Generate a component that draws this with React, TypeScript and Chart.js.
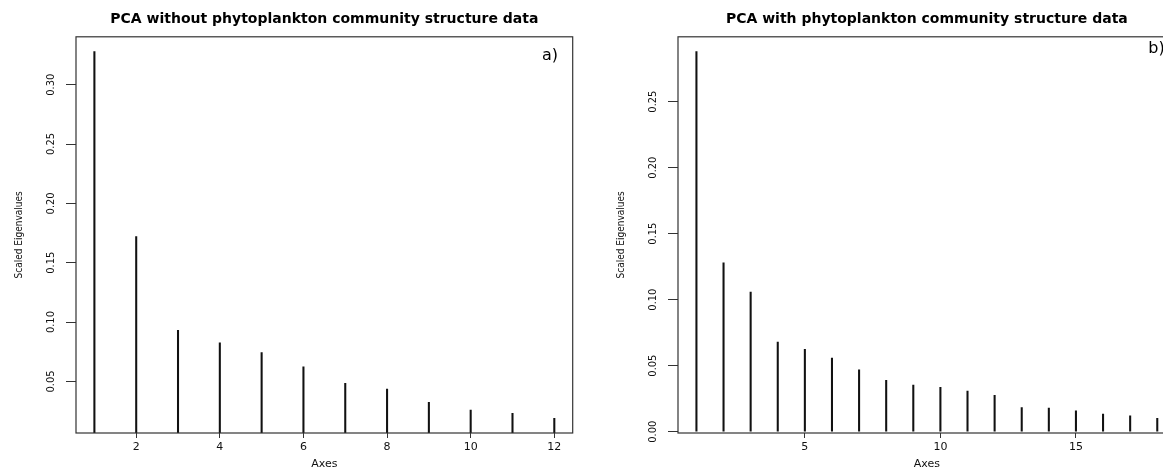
import React, { useEffect, useRef } from 'react';
import { Chart, registerables } from 'chart.js';

Chart.register(...registerables);

// ---- Panel a: PCA without phytoplankton community structure data ----
const axesA = [1, 2, 3, 4, 5, 6, 7, 8, 9, 10, 11, 12];
const eigenA = [0.328, 0.172, 0.093, 0.0825, 0.0744, 0.0623, 0.0483, 0.0435, 0.0323, 0.0259, 0.0231, 0.0189];
const xTicksA = [2, 4, 6, 8, 10, 12];
const yTicksA = [0.05, 0.10, 0.15, 0.20, 0.25, 0.30];
const titleA = 'PCA without phytoplankton community structure data';
const tagA = 'a)';

// ---- Panel b: PCA with phytoplankton community structure data ----
const axesB = [1, 2, 3, 4, 5, 6, 7, 8, 9, 10, 11, 12, 13, 14, 15, 16, 17, 18];
const eigenB = [0.288, 0.1278, 0.1057, 0.0679, 0.0623, 0.0557, 0.0469, 0.0389, 0.0353, 0.0336, 0.0308, 0.0275, 0.0182, 0.0179, 0.0157, 0.0134, 0.0119, 0.0101];
const xTicksB = [5, 10, 15];
const yTicksB = [0.0, 0.05, 0.10, 0.15, 0.20, 0.25];
const titleB = 'PCA with phytoplankton community structure data';
const tagB = 'b)';

const yLabel = 'Scaled Eigenvalues';
const xLabel = 'Axes';

const H = 470;
const NARROW = "'Liberation Sans Narrow', 'Arial Narrow', 'DejaVu Sans Condensed', sans-serif";

type PanelProps = {
  left: number;
  width: number;
  padRight: number;
  xs: number[];
  ys: number[];
  xTicks: number[];
  yTicks: number[];
  title: string;
  tag: string;
  tagDx: number;
  tagDy: number;
};

function expand(values: number[]) {
  const lo = Math.min(...values);
  const hi = Math.max(...values);
  const p = (hi - lo) * 0.04;
  return { min: lo - p, max: hi + p };
}

function Panel(props: PanelProps) {
  const ref = useRef<HTMLCanvasElement | null>(null);
  useEffect(() => {
    if (!ref.current) return;
    const xr = expand(props.xs);
    const yr = expand(props.ys);
    const frame = {
      id: 'frame',
      afterDraw(chart: any) {
        const { ctx, chartArea: a } = chart;
        ctx.save();
        ctx.strokeStyle = '#333';
        ctx.lineWidth = 1.2;
        ctx.strokeRect(a.left, a.top, a.right - a.left, a.bottom - a.top);
        ctx.font = "16px 'DejaVu Sans', sans-serif";
        ctx.fillStyle = '#000';
        ctx.textAlign = 'right';
        ctx.textBaseline = 'middle';
        ctx.fillText(props.tag, a.right - props.tagDx, a.top + props.tagDy);
        ctx.restore();
      },
    };
    const chart = new Chart(ref.current, {
      type: 'bar',
      data: {
        datasets: [
          {
            data: props.xs.map((x, i) => ({ x, y: props.ys[i] })),
            backgroundColor: '#111',
            borderWidth: 0,
            barThickness: 1.4,
            clip: 0,
          } as any,
        ],
      },
      options: {
        animation: false,
        responsive: false,
        maintainAspectRatio: false,
        layout: { padding: { left: 0, right: props.padRight, top: 0, bottom: 0 } },
        plugins: {
          legend: { display: false },
          tooltip: { enabled: false },
          title: {
            display: true,
            text: props.title,
            fullSize: false,
            color: '#000',
            font: { family: "'DejaVu Sans', sans-serif", size: 14, weight: 'bold' },
            padding: { top: 11, bottom: 9 },
          },
        },
        scales: {
          x: {
            type: 'linear',
            min: xr.min,
            max: xr.max,
            offset: false,
            afterBuildTicks: (s: any) => {
              s.ticks = props.xTicks.map((v) => ({ value: v }));
            },
            afterFit: (s: any) => {
              s.height = H - 433;
            },
            ticks: {
              autoSkip: false,
              maxRotation: 0,
              minRotation: 0,
              padding: 3,
              color: '#111',
              font: { family: "'DejaVu Sans', sans-serif", size: 11 },
              callback: (v: any) => String(v),
            },
            grid: {
              offset: false,
              drawOnChartArea: false,
              drawTicks: true,
              tickLength: 5,
              color: '#333',
              lineWidth: 1,
            },
            border: { display: false },
            title: {
              display: true,
              text: xLabel,
              color: '#111',
              font: { family: "'DejaVu Sans', sans-serif", size: 11, lineHeight: 1 },
              padding: { top: 0, bottom: 0 },
            },
          },
          y: {
            type: 'linear',
            min: yr.min,
            max: yr.max,
            afterBuildTicks: (s: any) => {
              s.ticks = props.yTicks.map((v) => ({ value: v }));
            },
            afterFit: (s: any) => {
              s.width = 76;
            },
            ticks: {
              autoSkip: false,
              minRotation: 90,
              maxRotation: 90,
              crossAlign: 'center',
              padding: 4,
              color: '#111',
              font: { family: NARROW, size: 11 },
              callback: (v: any) => Number(v).toFixed(2),
            },
            grid: {
              drawOnChartArea: false,
              drawTicks: true,
              tickLength: 10,
              color: '#333',
              lineWidth: 1,
            },
            border: { display: false },
            title: {
              display: true,
              text: yLabel,
              color: '#111',
              font: { family: NARROW, size: 10, lineHeight: 1.2 },
              padding: { top: 13, bottom: 0 },
            },
          },
        },
      } as any,
      plugins: [frame],
    });
    return () => chart.destroy();
  }, []);
  return (
    <canvas
      ref={ref}
      width={props.width}
      height={H}
      style={{ position: 'absolute', left: props.left, top: 0, width: props.width, height: H, display: 'block' }}
    />
  );
}

export default function App() {
  return (
    <div
      style={{
        position: 'fixed',
        left: 0,
        top: 0,
        width: 1163,
        height: H,
        overflow: 'hidden',
        background: '#fff',
      }}
    >
      <Panel left={0} width={600} padRight={27.3} xs={axesA} ys={eigenA} xTicks={xTicksA} yTicks={yTicksA} title={titleA} tag={tagA} tagDx={14.7} tagDy={19} />
      <Panel left={602} width={620} padRight={46.3} xs={axesB} ys={eigenB} xTicks={xTicksB} yTicks={yTicksB} title={titleB} tag={tagB} tagDx={11} tagDy={12} />
    </div>
  );
}
